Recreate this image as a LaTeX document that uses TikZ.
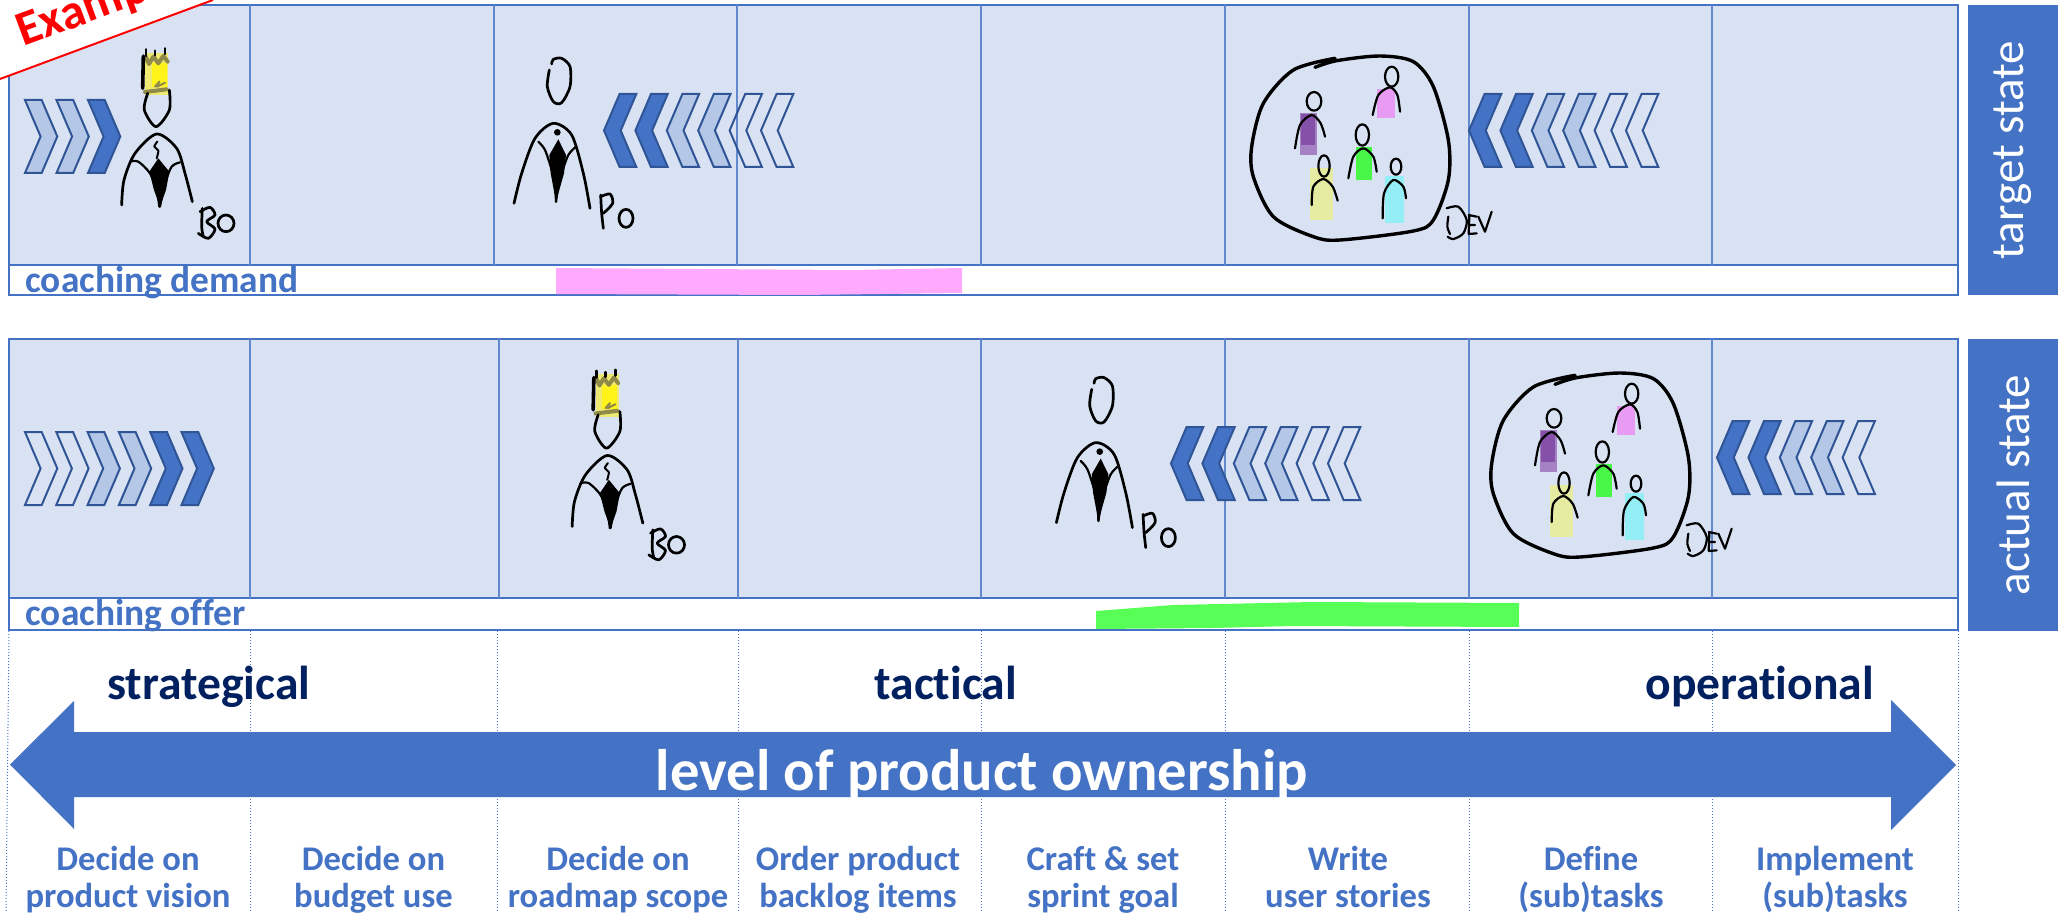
\documentclass[tikz,border=0pt]{standalone}
\usepackage{fontspec}
\setmainfont[Ligatures=NoCommon]{Carlito}
\definecolor{panel}{HTML}{D9E2F3}
\definecolor{mainblue}{HTML}{4472C4}
\definecolor{chevline}{HTML}{2F5597}
\definecolor{chevlight}{HTML}{B4C7E7}
\definecolor{navy}{HTML}{002060}
\definecolor{pinkbar}{HTML}{FFA9FF}
\definecolor{greenbar}{HTML}{57FF57}
\newcommand{\chevR}[3]{\draw[#3] (#1,#2) -- ++(16.7,0) -- ++(15.6,36.5) -- ++(-15.6,36.5) -- ++(-16.7,0) -- ++(15.6,-36.5) -- cycle;}
\newcommand{\chevL}[3]{\draw[#3] (#1,#2+36.5) -- ++(15.6,-36.5) -- ++(16.7,0) -- ++(-15.6,36.5) -- ++(15.6,36.5) -- ++(-16.7,0) -- cycle;}
\newcommand{\bofig}[2]{%
\begin{scope}[shift={(#1,#2)},x=0.16667pt,y=-0.16667pt]
 \fill[crownpale] (135,68) rectangle (205,195);
 \fill[crownmid] (155,100) rectangle (200,172);
 \draw[ink,crownolive,line width=2pt] (137,80) -- (147,102) -- (160,80) -- (175,100) -- (190,78) -- (203,95);
 \draw[ink,crownolive,line width=2pt] (135,186) -- (200,178);
 \draw[ink,crownolive,line width=1pt] (165,170) -- (178,155) -- (172,170) -- (195,158);
 \draw[ink,line width=1.8pt] (130,78) -- (128,175);
 \draw[ink,line width=1.3pt] (138,58) -- (138,78) (165,62) -- (165,76) (195,55) -- (195,72);
 \draw[ink] plot[smooth] coordinates {(143,190) (133,240) (168,290) (208,240) (208,180)};
 \draw[ink] plot[smooth] coordinates {(65,525) (72,450) (105,370) (170,312) (230,355) (255,430) (277,515)};
 \draw[ink,line width=1.1pt] plot[smooth] coordinates {(90,395) (115,395) (150,430) (170,480) (178,530)};
 \draw[ink,line width=1.1pt] plot[smooth] coordinates {(240,397) (215,410) (195,460) (180,530)};
 \fill (175,385) -- (208,425) -- (198,480) -- (180,530) -- (162,480) -- (148,425) -- cycle;
 \draw[ink,line width=1pt] plot[smooth] coordinates {(172,335) (163,350) (175,362) (170,385)};
 \draw[ink] plot[smooth] coordinates {(307,535) (305,590) (310,620)};
 \draw[ink] plot[smooth] coordinates {(300,545) (330,532) (345,555) (320,575) (345,597) (325,625) (295,610)};
 \draw[ink] (378,580) ellipse [x radius=24,y radius=25];
\end{scope}}
\newcommand{\pofig}[2]{%
\begin{scope}[shift={(#1,#2)},x=0.16667pt,y=-0.16667pt]
 \draw[ink] plot[smooth] coordinates {(178,90) (172,140) (190,185) (215,188) (240,140) (240,80) (215,55) (190,58) (185,72)};
 \draw[ink] plot[smooth] coordinates {(72,490) (95,400) (135,295) (190,250) (245,285) (280,400) (300,505)};
 \draw[ink,line width=1.1pt] plot[smooth] coordinates {(145,305) (165,330) (185,390) (195,440) (198,485)};
 \draw[ink,line width=1.1pt] plot[smooth] coordinates {(258,320) (235,345) (215,400) (205,440) (198,485)};
 \fill (205,298) -- (228,345) -- (222,400) -- (198,485) -- (182,400) -- (178,345) -- cycle;
 \fill (202,277) circle [radius=10];
 \draw[ink] plot[smooth] coordinates {(340,565) (335,520) (332,465)};
 \draw[ink] plot[smooth] coordinates {(332,470) (360,462) (368,490) (340,520)};
 \draw[ink] (408,535) ellipse [x radius=21,y radius=27];
\end{scope}}
\newcommand{\devfig}[2]{%
\begin{scope}[shift={(#1,#2)},x=0.16667pt,y=-0.16667pt]
 \draw[ink,line width=1.7pt] plot[smooth] coordinates {(345,112) (410,92) (540,78) (640,95) (700,170) (745,330) (745,450) (700,570) (640,603) (420,630) (340,620) (220,560) (160,440) (155,350) (190,220) (280,120) (405,85)};
 \fill[purplepale] (300,250) rectangle (350,375);
 \fill[purpledeep] (303,253) rectangle (345,345);
 \fill[pinkfig] (532,178) rectangle (585,265);
 \fill[greenfig] (467,350) rectangle (515,450);
 \fill[yellowfig] (331,415) rectangle (400,570);
 \fill[cyanfig] (556,437) rectangle (613,578);
 \draw[thinink] (342,214) ellipse [x radius=22,y radius=28];
 \draw[thinink] plot[smooth] coordinates {(285,355) (300,285) (335,255) (362,280) (375,320)};
 \draw[thinink] (575,140) ellipse [x radius=20,y radius=30];
 \draw[thinink] plot[smooth] coordinates {(518,255) (535,195) (570,172) (592,195) (600,245)};
 \draw[thinink] (487,315) ellipse [x radius=20,y radius=32];
 \draw[thinink] plot[smooth] coordinates {(445,445) (460,380) (490,355) (520,380) (530,425)};
 \draw[thinink] (372,408) ellipse [x radius=17,y radius=32];
 \draw[thinink] plot[smooth] coordinates {(335,525) (340,470) (370,447) (398,470) (413,512)};
 \draw[thinink] (588,410) ellipse [x radius=16,y radius=24];
 \draw[thinink] plot[smooth] coordinates {(548,565) (552,490) (580,450) (610,470) (618,505)};
 \draw[thinink] plot[smooth] coordinates {(745,560) (742,590) (750,612)};
 \draw[thinink] plot[smooth] coordinates {(740,535) (775,530) (800,570) (790,610) (760,627) (743,620)};
 \draw[thinink] (808,555) -- (806,612) (806,555) -- (830,560) (806,585) -- (825,585) (806,612) -- (830,610);
 \draw[thinink] (835,560) -- (855,605) -- (875,545);
\end{scope}}
\tikzset{
 ink/.style={draw=black,line width=1.35pt,line cap=round,line join=round},
 thinink/.style={draw=black,line width=1.1pt,line cap=round,line join=round},
 panelbox/.style={draw=mainblue,fill=panel,line width=1pt},
 stripbox/.style={draw=mainblue,fill=white,line width=1pt},
 colline/.style={draw=mainblue!80!panel,line width=.55pt},
 dotline/.style={draw=mainblue,line width=.5pt,densely dotted},
 chevdark/.style={draw=chevline,fill=mainblue,line width=1pt,line join=miter},
 chevpale/.style={draw=chevline,fill=chevlight,line width=1pt},
 chevopen/.style={draw=chevline,line width=1pt},
 side/.style={fill=mainblue},
 sidelabel/.style={text=white,rotate=90,font=\fontsize{23.5}{28}\selectfont},
 striplabel/.style={anchor=base west,text=mainblue,inner sep=0pt,font=\bfseries\fontsize{18.7}{22}\selectfont},
 levellabel/.style={anchor=base west,text=navy,inner sep=0pt,font=\bfseries\fontsize{23.8}{28}\selectfont},
 collabel/.style={anchor=base,text=mainblue,inner sep=0pt,align=center,font=\bfseries\fontsize{17.3}{18.5}\selectfont},
}
\colorlet{crownpale}{yellow!55!panel}
\colorlet{crownmid}{yellow!90!white}
\colorlet{crownolive}{yellow!50!black}
\definecolor{purplepale}{HTML}{A582C4}
\definecolor{purpledeep}{HTML}{8450A8}
\definecolor{pinkfig}{HTML}{E79BF2}
\definecolor{greenfig}{HTML}{47F647}
\definecolor{yellowfig}{HTML}{E6EBA2}
\definecolor{cyanfig}{HTML}{93EEF6}
\begin{document}
\begin{tikzpicture}[x=0.5pt,y=-0.5pt]
\useasboundingbox (0,0) rectangle (2058,915);
\clip (0,0) rectangle (2058,915);
\fill[white] (0,0) rectangle (2058,915);
% dotted guides
\draw[dotline] (9,631) -- (6,912);
\foreach \x in {250,497,738,981,1225,1469,1712,1958}
  \draw[dotline] (\x,631) -- (\x,912);
% target state panel
\draw[panelbox] (9,5) rectangle (1958,265);
\draw[stripbox] (9,265) rectangle (1958,295);
\foreach \x in {250,494,737,981,1225,1469,1712}
  \draw[colline] (\x,5) -- (\x,265);
\fill[pinkbar] (556,268) -- (700,269) -- (850,270) -- (962,268) -- (962,293) -- (800,295) -- (556,294) -- cycle;
% actual state panel
\draw[panelbox] (9,339) rectangle (1958,598);
\draw[stripbox] (9,598) rectangle (1958,630);
\foreach \x in {250,499,738,981,1225,1469,1712}
  \draw[colline] (\x,339) -- (\x,598);
\fill[greenbar] (1096,611) -- (1173,605) -- (1313,602) -- (1519,603) -- (1519,627) -- (1293,626) -- (1213,628) -- (1096,629) -- cycle;
% side bars
\fill[side] (1968,5) rectangle (2058,295);
\fill[side] (1968,339) rectangle (2058,631);
\node[sidelabel] (target) at (2013,150) {target state};
\node[sidelabel] (actual) at (2013,485) {actual state};
% strip labels
\node[striplabel] (demand) at (25,292.5) {coaching demand};
\node[striplabel] (offer) at (25,625) {coaching offer};
% chevrons: target
\chevR{25}{100}{chevpale}
\chevR{56.5}{100}{chevpale}
\chevR{88}{100}{chevdark}
\chevL{604}{94}{chevdark}
\chevL{635.4}{94}{chevdark}
\chevL{666.8}{94}{chevpale}
\chevL{698.2}{94}{chevpale}
\chevL{729.6}{94}{chevopen}
\chevL{761}{94}{chevopen}
\chevL{1469}{94}{chevdark}
\chevL{1500.4}{94}{chevdark}
\chevL{1531.8}{94}{chevpale}
\chevL{1563.2}{94}{chevpale}
\chevL{1594.6}{94}{chevopen}
\chevL{1626}{94}{chevopen}
% chevrons: actual
\chevR{25}{432}{chevopen}
\chevR{56.3}{432}{chevopen}
\chevR{87.6}{432}{chevpale}
\chevR{118.9}{432}{chevpale}
\chevR{150.2}{432}{chevdark}
\chevR{181.5}{432}{chevdark}
\chevL{1171}{427}{chevdark}
\chevL{1202.4}{427}{chevdark}
\chevL{1233.8}{427}{chevpale}
\chevL{1265.2}{427}{chevpale}
\chevL{1296.6}{427}{chevopen}
\chevL{1328}{427}{chevopen}
\chevL{1717}{421}{chevdark}
\chevL{1748.4}{421}{chevdark}
\chevL{1779.8}{421}{chevpale}
\chevL{1811.2}{421}{chevpale}
\chevL{1842.6}{421}{chevopen}
% sketched figures
\bofig{100}{30}
\pofig{490}{40}
\devfig{1200}{30}
\bofig{550.5}{351.5}
\pofig{1032.4}{359.3}
\devfig{1440}{347}
% level labels and arrow
\fill[mainblue] (10,764.5) -- (74,701) -- (74,732) -- (1891,732) -- (1891,700) -- (1956,765) -- (1891,830) -- (1891,797) -- (74,797) -- (74,829) -- cycle;
\node[levellabel] (strat) at (107,699) {strategical};
\node[levellabel] (tact) at (874,699) {tactical};
\node[levellabel] (oper) at (1645,699) {operational};
\node[anchor=base,text=white,inner sep=0pt,font=\bfseries\fontsize{29.3}{34}\selectfont] (level) at (982,790) {level of product ownership};
% column labels
\node[collabel] (c1) at (128,907) {Decide on\\product vision};
\node[collabel] (c2) at (373.5,907) {Decide on\\budget use};
\node[collabel] (c3) at (618,907) {Decide on\\roadmap scope};
\node[collabel] (c4) at (858,907) {Order product\\backlog items};
\node[collabel] (c5) at (1103,907) {Craft \& set\\sprint goal};
\node[collabel] (c6) at (1348,907) {Write\\user stories};
\node[collabel] (c7) at (1591,907) {Define\\(sub)tasks};
\node[collabel] (c8) at (1835,907) {Implement\\(sub)tasks};
% example banner
\fill[white] (0,0) -- (213,0) -- (0,79) -- cycle;
\draw[red,line width=1pt] (0,79) -- (213,0);
\node[anchor=base west,rotate=20.3,text=red,inner sep=0pt,font=\bfseries\fontsize{24.5}{28}\selectfont] (example) at (23,47) {Example};
\end{tikzpicture}
\end{document}
